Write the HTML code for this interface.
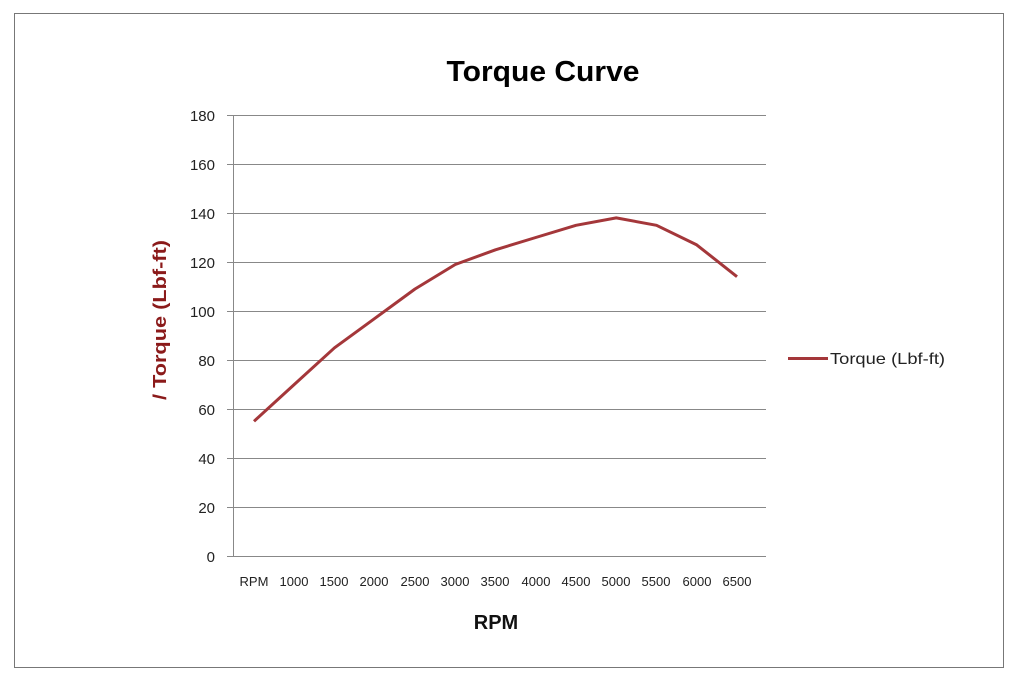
<!DOCTYPE html>
<html><head><style>
html,body{margin:0;padding:0;background:#fff;}
svg{display:block;}
text{font-family:"Liberation Sans","DejaVu Sans",sans-serif;}
</style></head><body>
<svg width="1024" height="683" viewBox="0 0 1024 683" xmlns="http://www.w3.org/2000/svg">
<rect x="0" y="0" width="1024" height="683" fill="#fff"/>
<rect x="14.5" y="13.5" width="989" height="654" fill="none" stroke="#777" stroke-width="1"/>
<text x="543" y="81" text-anchor="middle" font-size="29" font-weight="bold" fill="#000" textLength="193" lengthAdjust="spacingAndGlyphs">Torque Curve</text>
<g stroke="#888" stroke-width="1">
<line x1="227" y1="115.5" x2="766" y2="115.5"/>
<line x1="227" y1="164.5" x2="766" y2="164.5"/>
<line x1="227" y1="213.5" x2="766" y2="213.5"/>
<line x1="227" y1="262.5" x2="766" y2="262.5"/>
<line x1="227" y1="311.5" x2="766" y2="311.5"/>
<line x1="227" y1="360.5" x2="766" y2="360.5"/>
<line x1="227" y1="409.5" x2="766" y2="409.5"/>
<line x1="227" y1="458.5" x2="766" y2="458.5"/>
<line x1="227" y1="507.5" x2="766" y2="507.5"/>
<line x1="227" y1="556.5" x2="766" y2="556.5"/>
<line x1="233.5" y1="115" x2="233.5" y2="556"/>
</g>
<g font-size="15" fill="#222" text-anchor="end">
<text x="215" y="121">180</text>
<text x="215" y="170">160</text>
<text x="215" y="219">140</text>
<text x="215" y="268">120</text>
<text x="215" y="317">100</text>
<text x="215" y="366">80</text>
<text x="215" y="415">60</text>
<text x="215" y="464">40</text>
<text x="215" y="513">20</text>
<text x="215" y="562">0</text>
</g>
<g font-size="13" fill="#222" text-anchor="middle">
<text x="254" y="586">RPM</text>
<text x="294" y="586">1000</text>
<text x="334" y="586">1500</text>
<text x="374" y="586">2000</text>
<text x="415" y="586">2500</text>
<text x="455" y="586">3000</text>
<text x="495" y="586">3500</text>
<text x="536" y="586">4000</text>
<text x="576" y="586">4500</text>
<text x="616" y="586">5000</text>
<text x="656" y="586">5500</text>
<text x="697" y="586">6000</text>
<text x="737" y="586">6500</text>
</g>
<text x="496" y="629" text-anchor="middle" font-size="20" font-weight="bold" fill="#111">RPM</text>
<text transform="translate(166,320) rotate(-90)" text-anchor="middle" font-size="18" font-weight="bold" fill="#8b1a1a" textLength="160" lengthAdjust="spacingAndGlyphs">/ Torque (Lbf-ft)</text>
<polyline fill="none" stroke="#a4373a" stroke-width="3" stroke-linejoin="round"
points="254,421.3 294.25,384.5 334.5,347.8 374.75,318.4 415,289 455.25,264.5 495.5,249.8 535.75,237.5 576,225.3 616.25,217.9 656.5,225.3 696.75,244.9 737,276.7"/>
<line x1="788" y1="358.5" x2="828" y2="358.5" stroke="#a4373a" stroke-width="3"/>
<text x="830" y="364" font-size="16" fill="#222" textLength="115" lengthAdjust="spacingAndGlyphs">Torque (Lbf-ft)</text>
</svg>
</body></html>
